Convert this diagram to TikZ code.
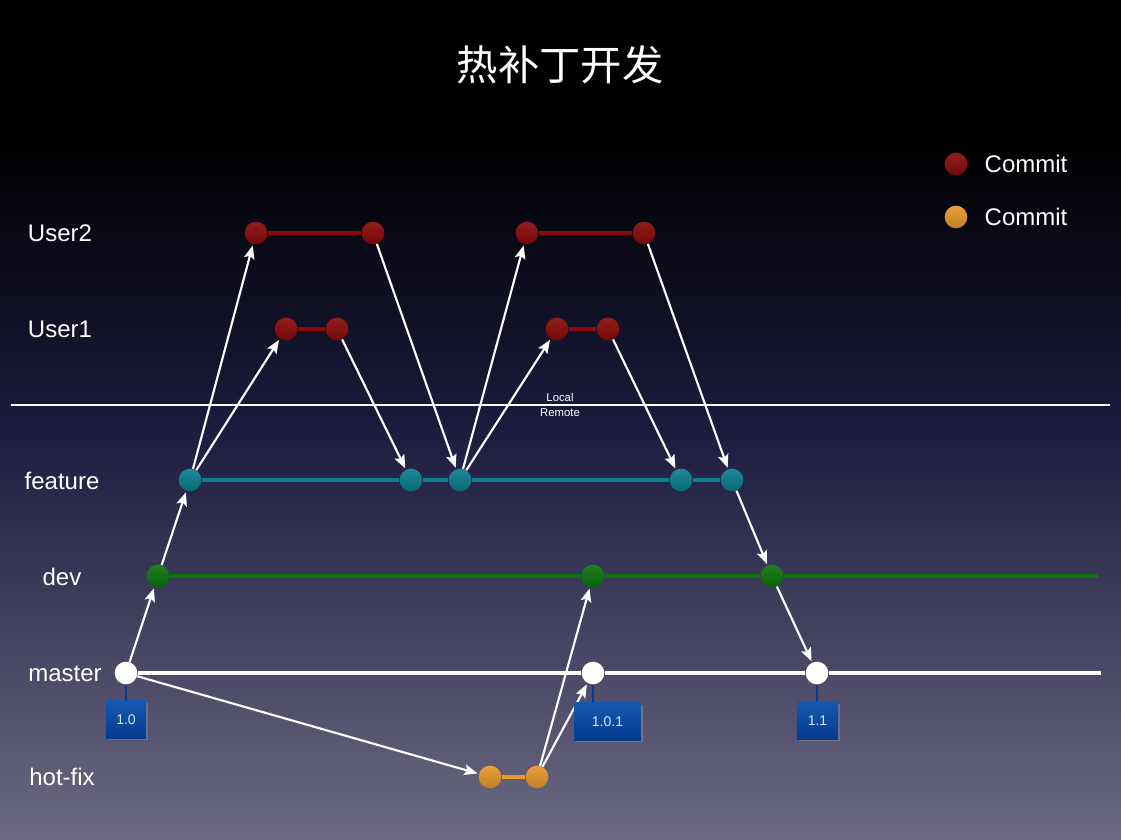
\documentclass[tikz,border=0pt]{standalone}
\usepackage{fontspec}
\setmainfont{Liberation Sans}
\newfontfamily\cjk{Noto Sans CJK SC}
\usetikzlibrary{arrows.meta, shadows}
\definecolor{userred}{HTML}{8A0A0A}
\definecolor{featteal}{HTML}{0A808C}
\definecolor{devgreen}{HTML}{0B760B}
\definecolor{fixorange}{HTML}{E89A2A}
\definecolor{tagtop}{HTML}{1559B0}
\definecolor{tagbot}{HTML}{063A8C}
\definecolor{bgmid}{HTML}{1B1A3D}
\definecolor{bgbot}{HTML}{6B6983}
\tikzset{
  commit/.style = {circle, inner sep = 0pt, minimum size = 17pt, top color = #1!92!white, bottom color = #1!82!black},
  release/.style = {circle, inner sep = 0pt, minimum size = 17pt, fill = white},
  branch/.style = {text = white, font = \fontsize{18}{20}\selectfont},
  tag/.style = {top color = tagtop, bottom color = tagbot, text = white!85!tagtop, font = \fontsize{10.5}{12}\selectfont,
    minimum height = 28pt, inner sep = 0pt, drop shadow = {opacity = 0.7, shadow xshift = 1.5pt, shadow yshift = -1.5pt}},
  arr/.style = {-{Stealth[length = 10pt, width = 8pt, inset = 2pt]}, white, line width = 1.6pt, shorten > = 1pt}
}
\begin{document}
\begin{tikzpicture}[x = 0.75pt, y = -0.75pt]
    \fill[black] (0, 0) rectangle (1121, 140);
    \shade[top color = black, bottom color = bgmid] (0, 139) rectangle (1121, 420);
    \shade[top color = bgmid, bottom color = bgbot] (0, 419) rectangle (1121, 839);

    \node[text = white, font = \cjk\fontsize{31}{34}\selectfont] (title) at (560, 65) {热补丁开发};

    \node[branch] (User2) at (60, 233) {User2};
    \node[branch] (User1) at (60, 329) {User1};
    \node[branch] (feature) at (62, 481) {feature};
    \node[branch] (dev) at (62, 577) {dev};
    \node[branch] (master) at (65, 674) {master};
    \node[branch] (hotfix) at (62, 777) {hot-fix};

    \draw[white, line width = 1.2pt] (11, 405) -- (1110, 405);
    \node[text = white!80, font = \fontsize{8.5}{9}\selectfont] (local) at (560, 397) {Local};
    \node[text = white!80, font = \fontsize{8.5}{9}\selectfont] (remote) at (560, 413) {Remote};

    \node[commit = userred] (u2a) at (256, 233) {};
    \node[commit = userred] (u2b) at (373, 233) {};
    \node[commit = userred] (u2c) at (527, 233) {};
    \node[commit = userred] (u2d) at (644, 233) {};
    \node[commit = userred] (u1a) at (286, 329) {};
    \node[commit = userred] (u1b) at (337, 329) {};
    \node[commit = userred] (u1c) at (557, 329) {};
    \node[commit = userred] (u1d) at (608, 329) {};
    \node[commit = featteal] (f0) at (190, 480) {};
    \node[commit = featteal] (f1) at (411, 480) {};
    \node[commit = featteal] (f2) at (460, 480) {};
    \node[commit = featteal] (f3) at (681, 480) {};
    \node[commit = featteal] (f4) at (732, 480) {};
    \node[commit = devgreen] (d0) at (158, 576) {};
    \node[commit = devgreen] (d1) at (593, 576) {};
    \node[commit = devgreen] (d2) at (772, 576) {};
    \node[release] (m0) at (126, 673) {};
    \node[release] (m1) at (593, 673) {};
    \node[release] (m2) at (817, 673) {};
    \node[commit = fixorange] (h0) at (490, 777) {};
    \node[commit = fixorange] (h1) at (537, 777) {};
    \coordinate (dend) at (1098, 576);
    \coordinate (mend) at (1101, 673);

    \draw[userred, line width = 3pt] (u2a) -- (u2b) (u2c) -- (u2d) (u1a) -- (u1b) (u1c) -- (u1d);
    \draw[featteal, line width = 3.6pt] (f0) -- (f1) -- (f2) -- (f3) -- (f4);
    \draw[devgreen, line width = 3.6pt] (d0) -- (d1) -- (d2) -- (dend);
    \draw[white, line width = 3.6pt] (m0) -- (m1) -- (m2) -- (mend);
    \draw[fixorange, line width = 2.4pt] (h0) -- (h1);

    \draw[arr] (m0) -- (d0);
    \draw[arr] (d0) -- (f0);
    \draw[arr] (f0) -- (u2a);
    \draw[arr] (f0) -- (u1a);
    \draw[arr] (u1b) -- (f1);
    \draw[arr] (u2b) -- (f2);
    \draw[arr] (f2) -- (u2c);
    \draw[arr] (f2) -- (u1c);
    \draw[arr] (u1d) -- (f3);
    \draw[arr] (u2d) -- (f4);
    \draw[arr] (f4) -- (d2);
    \draw[arr] (d2) -- (m2);
    \draw[arr] (m0) -- (h0);
    \draw[arr] (h1) -- (d1);
    \draw[arr] (h1) -- (m1);

    \node[tag, minimum width = 30pt] (t0) at (126, 719.5) {1.0};
    \node[tag, minimum width = 50pt] (t1) at (607.5, 721.5) {1.0.1};
    \node[tag, minimum width = 31pt] (t2) at (817.5, 720.5) {1.1};
    \draw[tagbot, line width = 1pt] (m0) -- (m0 |- t0.north);
    \draw[tagbot, line width = 1pt] (m1) -- (m1 |- t1.north);
    \draw[tagbot, line width = 1pt] (m2) -- (m2 |- t2.north);

    \node[commit = userred] (key1) at (956, 164) {};
    \node[commit = fixorange] (key2) at (956, 217) {};
    \node[branch, anchor = west] (commit1) at (980, 164) {Commit};
    \node[branch, anchor = west] (commit2) at (980, 217) {Commit};
\end{tikzpicture}
\end{document}
